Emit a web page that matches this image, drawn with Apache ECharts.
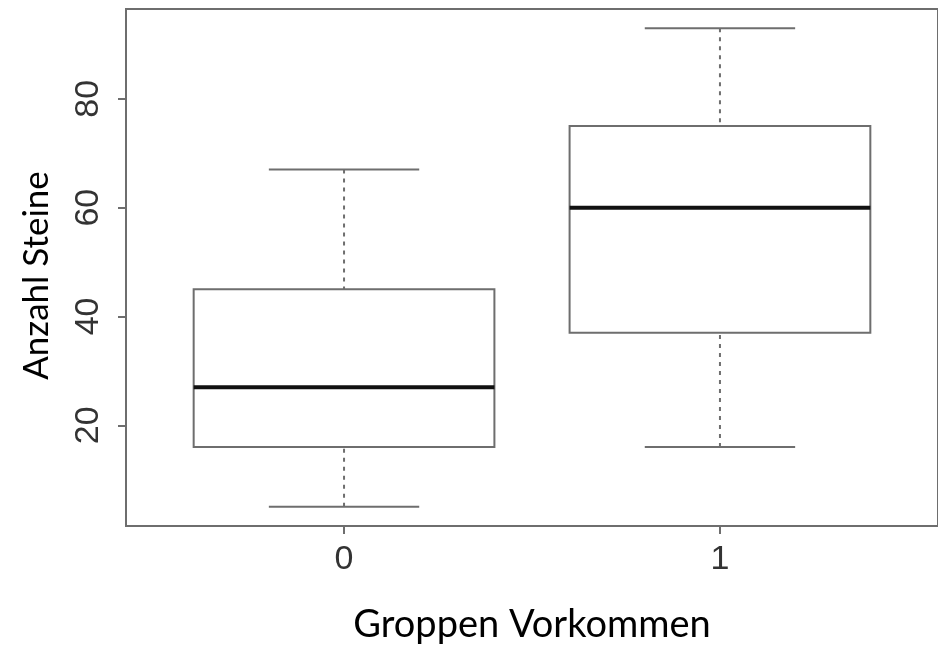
<!DOCTYPE html>
<html>
<head>
<meta charset="utf-8">
<script src="https://cdn.jsdelivr.net/npm/echarts@6/dist/echarts.min.js"></script>
<style>
html,body{margin:0;padding:0;background:#fff;}
#chart{width:938px;height:652px;}
</style>
</head>
<body>
<div id="chart"></div>
<script>
// Data
var categories = ['0', '1'];
var whiskerLow = [5, 16];
var quartile1 = [16, 37];
var medians = [27, 60];
var quartile3 = [45, 75];
var whiskerHigh = [67, 93];
var yTicks = [20, 40, 60, 80];
var xTitle = 'Groppen Vorkommen';
var yTitle = 'Anzahl Steine';

var boxData = categories.map(function (c, i) {
  return [i, whiskerLow[i], quartile1[i], medians[i], quartile3[i], whiskerHigh[i]];
});

var BOX_HALF = 0.4, CAP_HALF = 0.2;
var LINE = '#6e6e6e';

function renderItem(params, api) {
  var x = api.value(0);
  var lo = api.coord([x, api.value(1)]);
  var q1L = api.coord([x - BOX_HALF, api.value(2)]);
  var medL = api.coord([x - BOX_HALF, api.value(3)]);
  var medR = api.coord([x + BOX_HALF, api.value(3)]);
  var q3L = api.coord([x - BOX_HALF, api.value(4)]);
  var q3R = api.coord([x + BOX_HALF, api.value(4)]);
  var hi = api.coord([x, api.value(5)]);
  var capLoL = api.coord([x - CAP_HALF, api.value(1)]);
  var capLoR = api.coord([x + CAP_HALF, api.value(1)]);
  var capHiL = api.coord([x - CAP_HALF, api.value(5)]);
  var capHiR = api.coord([x + CAP_HALF, api.value(5)]);
  var solid = {stroke: LINE, lineWidth: 2, fill: null};
  var dashed = {stroke: LINE, lineWidth: 2, lineDash: [4, 5]};
  return {
    type: 'group',
    children: [
      {type: 'line', shape: {x1: lo[0], y1: lo[1], x2: lo[0], y2: q1L[1]}, style: dashed},
      {type: 'line', shape: {x1: hi[0], y1: hi[1], x2: hi[0], y2: q3L[1]}, style: dashed},
      {type: 'line', shape: {x1: capLoL[0], y1: capLoL[1], x2: capLoR[0], y2: capLoR[1]}, style: solid},
      {type: 'line', shape: {x1: capHiL[0], y1: capHiL[1], x2: capHiR[0], y2: capHiR[1]}, style: solid},
      {type: 'rect', shape: {x: q3L[0], y: q3L[1], width: q3R[0] - q3L[0], height: q1L[1] - q3L[1]}, style: solid},
      {type: 'line', shape: {x1: medL[0], y1: medL[1], x2: medR[0], y2: medR[1]}, style: {stroke: '#111', lineWidth: 4}}
    ]
  };
}

var chart = echarts.init(document.getElementById('chart'), null, {renderer: 'canvas'});
chart.setOption({
  animation: false,
  backgroundColor: '#ffffff',
  grid: {left: 126, right: -4, top: 9, bottom: 126, show: true, borderColor: LINE, borderWidth: 2, backgroundColor: 'transparent'},
  xAxis: {
    type: 'value',
    min: -0.58,
    max: 1.58,
    splitLine: {show: false},
    axisLine: {show: false, onZero: false},
    axisTick: {show: true, customValues: [0, 1], length: 8, lineStyle: {color: LINE, width: 2}},
    axisLabel: {
      customValues: [0, 1],
      formatter: function (v) { return categories[Math.round(v)]; },
      fontFamily: 'Liberation Sans', fontSize: 34, color: '#333', margin: 17
    },
    name: xTitle,
    nameLocation: 'middle',
    nameGap: 80,
    nameTextStyle: {fontFamily: 'Lato', fontSize: 38, color: '#000'}
  },
  yAxis: {
    type: 'value',
    min: 1.48,
    max: 96.52,
    splitLine: {show: false},
    axisLine: {show: false, onZero: false},
    axisTick: {show: true, customValues: yTicks, length: 8, lineStyle: {color: LINE, width: 2}},
    axisLabel: {
      customValues: yTicks,
      rotate: 90,
      fontFamily: 'Liberation Sans', fontSize: 34, color: '#333', margin: 20
    },
    name: yTitle,
    nameLocation: 'middle',
    nameGap: 72,
    nameTextStyle: {fontFamily: 'Lato', fontSize: 35, color: '#000', padding: [0, 16, 0, 0]}
  },
  series: [{
    type: 'custom',
    renderItem: renderItem,
    encode: {x: 0, y: [1, 2, 3, 4, 5]},
    data: boxData,
    clip: false
  }]
});
</script>
</body>
</html>
